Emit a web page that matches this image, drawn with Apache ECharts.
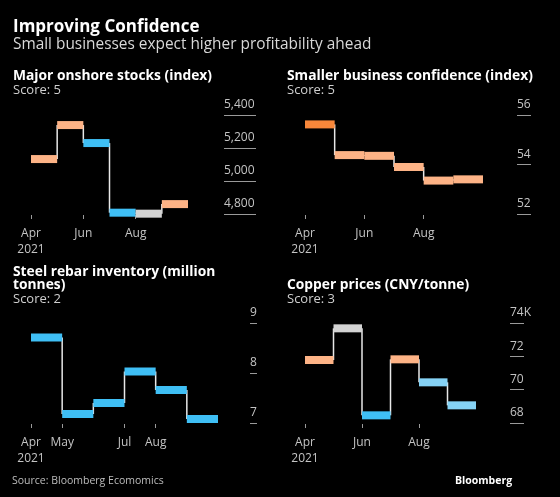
<!DOCTYPE html>
<html>
<head>
<meta charset="utf-8">
<script src="https://cdn.jsdelivr.net/npm/echarts@6/dist/echarts.min.js"></script>
<style>
html,body{margin:0;padding:0;background:#000;}
#c{width:560px;height:497px;}
</style>
</head>
<body>
<div id="c"></div>
<script>
// ---- data ----
const months = ['Apr', 'May', 'Jun', 'Jul', 'Aug', 'Sep'];
const startYear = '2021';

const stocksValues = [5133, 5339, 5230, 4808, 4802, 4860];
const stocksTones = ['warm', 'warm', 'cool', 'cool', 'neutral', 'warm'];
const stocksTicks = ['Apr', 'Jun', 'Aug'];

const confidenceValues = [55.62, 54.38, 54.35, 53.90, 53.35, 53.40];
const confidenceTones = ['hot', 'warm', 'warm', 'warm', 'warm', 'warm'];
const confidenceTicks = ['Apr', 'Jun', 'Aug'];

const rebarValues = [8.71, 7.18, 7.40, 8.03, 7.66, 7.08];
const rebarTones = ['cool', 'cool', 'cool', 'cool', 'cool', 'cool'];
const rebarTicks = ['Apr', 'May', 'Jul', 'Aug'];

const copperValues = [71780, 73680, 68460, 71820, 70440, 69060];
const copperTones = ['warm', 'neutral', 'cool', 'warm', 'pale', 'pale'];
const copperTicks = ['Apr', 'Jun', 'Aug'];

const panelTitles = ['Major onshore stocks (index)', 'Smaller business confidence (index)', 'Steel rebar inventory (million\ntonnes)', 'Copper prices (CNY/tonne)'];
const panelScores = ['Score: 5', 'Score: 5', 'Score: 2', 'Score: 3'];

// ---- style ----
const FONT = '"Open Sans"';
const palette = { warm: '#fdb386', hot: '#f8873a', cool: '#3fbff5', pale: '#85d2f5', neutral: '#d3d3d3' };
const labelColor = '#c4c4c4';
const tickColor = '#9a9a9a';

const panels = [
  { values: stocksValues, tones: stocksTones, ticks: stocksTicks, grid: { left: 31, top: 115, width: 157, height: 99 },
    y: { min: 4800, max: 5400, interval: 200, left: 224, tick: 32, fmt: v => v.toLocaleString('en-US') } },
  { values: confidenceValues, tones: confidenceTones, ticks: confidenceTicks, grid: { left: 305, top: 115, width: 178, height: 99 },
    y: { min: 52, max: 56, interval: 2, left: 517, tick: 14, fmt: v => String(v) } },
  { values: rebarValues, tones: rebarTones, ticks: rebarTicks, grid: { left: 31, top: 323, width: 187, height: 100 },
    y: { min: 7, max: 9, interval: 1, left: 250, tick: 7, fmt: v => String(v) } },
  { values: copperValues, tones: copperTones, ticks: copperTicks, grid: { left: 305, top: 323, width: 171, height: 100 },
    y: { min: 68000, max: 74000, interval: 2000, left: 510, tick: 14, fmt: v => (v / 1000) + (v === 74000 ? 'K' : '') } }
];

const grids = [], xAxes = [], yAxes = [], series = [];
panels.forEach((p, k) => {
  // plot grid
  grids.push(Object.assign({ containLabel: false, outerBoundsMode: 'none' }, p.grid));
  const tickIdx = p.ticks.map(t => months.indexOf(t));
  xAxes.push({
    gridIndex: 2 * k, type: 'value', min: 0, max: months.length, position: 'bottom', offset: 1,
    axisLine: { show: false }, splitLine: { show: false },
    axisTick: { show: true, length: 4, lineStyle: { color: tickColor, width: 1 }, customValues: tickIdx },
    axisLabel: { show: true, customValues: tickIdx, margin: 11, color: labelColor, fontFamily: FONT, fontSize: 12, lineHeight: 16,
      formatter: v => (v === 0 ? months[v] + '\n' + startYear : months[v]) }
  });
  yAxes.push({
    gridIndex: 2 * k, type: 'value', min: p.y.min, max: p.y.max, interval: p.y.interval, show: false
  });
  // label column grid (tick marks + labels on the right)
  grids.push({ containLabel: false, outerBoundsMode: 'none', left: p.y.left, width: p.y.tick, top: p.grid.top, height: p.grid.height });
  xAxes.push({ gridIndex: 2 * k + 1, type: 'value', min: 0, max: 1, show: false });
  yAxes.push({
    gridIndex: 2 * k + 1, type: 'value', position: 'left', min: p.y.min, max: p.y.max, interval: p.y.interval,
    axisLine: { show: false }, axisTick: { show: false },
    splitLine: { show: true, lineStyle: { color: tickColor, width: 1 } },
    axisLabel: { show: true, inside: true, margin: 0, align: 'left', verticalAlign: 'bottom', padding: [0, 0, 4, 0],
      color: labelColor, fontFamily: FONT, fontSize: 12, formatter: p.y.fmt }
  });
  const vals = p.values, tones = p.tones;
  series.push({
    type: 'custom', xAxisIndex: 2 * k, yAxisIndex: 2 * k,
    data: vals.map((v, i) => [i, v]),
    encode: { x: 0, y: 1 },
    renderItem: function (params, api) {
      const i = api.value(0), v = api.value(1);
      const a = api.coord([i, v]), b = api.coord([i + 1, v]);
      const children = [];
      if (i + 1 < vals.length) {
        const c = api.coord([i + 1, vals[i + 1]]);
        children.push({ type: 'line', shape: { x1: b[0], y1: b[1], x2: c[0], y2: c[1] },
          style: { stroke: '#e8e8e8', lineWidth: 1.5 } });
      }
      children.push({ type: 'rect', shape: { x: a[0], y: a[1] - 4, width: b[0] - a[0], height: 8 },
        style: { fill: palette[tones[i]] } });
      return { type: 'group', children: children };
    }
  });
});

function txt(x, y, text, fill, font, extra) {
  return { type: 'text', x: x, y: y, style: Object.assign({ text: text, fill: fill, font: font, verticalAlign: 'middle' }, extra || {}) };
}
const graphics = [
  txt(13, 27, 'Improving Confidence', '#ffffff', 'bold 17px ' + FONT),
  txt(13, 45, 'Small businesses expect higher profitability ahead', '#d8d8d8', '15.4px ' + FONT),
  txt(12, 481, 'Source: Bloomberg Ecomomics', '#bdbdbd', '10.5px ' + FONT),
  txt(455, 481, 'Bloomberg', '#ffffff', 'bold 10.5px ' + FONT)
];
const titlePos = [[13, 76], [287, 76], [13, 272], [287, 285]];
const scorePos = [[13, 90.5], [287, 90.5], [13, 299], [287, 299]];
panelTitles.forEach((t, k) => {
  const lines = t.split('\n');
  lines.forEach((ln, j) => graphics.push(txt(titlePos[k][0], titlePos[k][1] + j * 13.5, ln, '#ffffff', 'bold 13.8px ' + FONT)));
  graphics.push(txt(scorePos[k][0], scorePos[k][1], panelScores[k], '#cfcfcf', '13px ' + FONT));
});

const chart = echarts.init(document.getElementById('c'), null, { renderer: 'canvas' });
chart.setOption({
  backgroundColor: '#000000',
  animation: false,
  grid: grids, xAxis: xAxes, yAxis: yAxes, series: series,
  graphic: graphics
});
</script>
</body>
</html>
